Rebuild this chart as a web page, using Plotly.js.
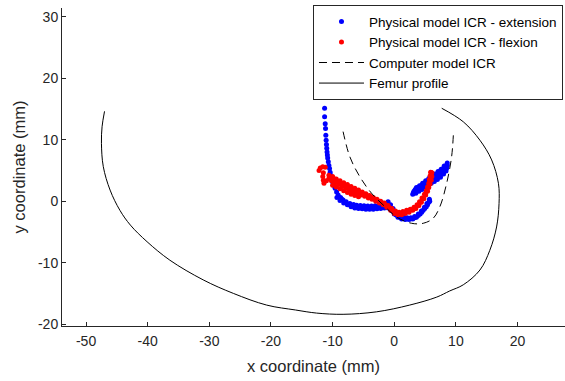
<!DOCTYPE html>
<html>
<head>
<meta charset="utf-8">
<script src="https://cdn.plot.ly/plotly-3.0.1.min.js"></script>
<style>html,body{margin:0;padding:0;background:#fff;}#chart{width:565px;height:381px;}</style>
</head>
<body>
<div id="chart"></div>
<script>
// Physical model ICR - extension (blue)
const extX = [-11.3,-11.3,-11.2,-11.15,-11.1,-11.05,-11.0,-10.95,-10.9,-10.85,-10.8,-10.7,-10.6,-10.5,-10.4,-10.3,-10.15,-10.0,-9.8,-9.6,-9.35,-9.1,-8.7,-8.3,-7.8,-7.2,-6.6,-6.1,-5.5,-4.9,-4.3,-3.7,-3.1,-2.5,-1.9,-1.3,-1.0,-0.6,-0.2,0.3,0.9,1.5,2.1,2.7,3.3,3.9,4.4,4.9,5.3,5.7,
  -9.3,-8.8,-8.2,-7.6,-7.0,-6.4,-5.8,-5.2,-4.6,-4.0,-3.4,-2.8,-2.2,-1.6,-1.0,-0.5,0.0,0.6,1.2,1.8,2.4,3.0,3.6,4.2,4.7,5.2,5.6,
  -8.5,-7.9,-7.3,-6.7,-6.1,-5.5,-4.9,-4.3,-3.7,-3.1,-2.5,-1.9,-1.3,-0.8,-0.3,0.3,0.9,1.5,2.1,2.7,3.3,3.9,4.45,4.95,5.4,5.75,
  3.2,3.7,4.2,4.7,5.2,5.7,6.2,6.7,7.2,7.7,8.2,8.6,
  3.6,4.1,4.6,5.1,5.6,6.1,6.6,7.1,7.6,8.1,8.6,
  3.0,3.5,4.0,4.5,5.0,5.5,6.0,6.5,7.0,7.5,8.0,8.4,
  3.4,3.9,4.4,4.9,5.4,5.9,6.4,6.9,7.4,7.9,8.4,
  3.1,3.6,4.1,4.6,5.1,5.6,6.1,6.6,7.1,7.6,8.1,8.5];
const extY = [15.1,13.7,12.6,11.8,10.7,9.9,9.2,8.6,8.0,7.5,7.0,6.4,5.8,5.3,4.7,4.2,3.6,3.1,2.6,2.1,1.5,1.0,0.6,0.2,-0.1,-0.4,-0.55,-0.65,-0.7,-0.75,-0.8,-0.8,-0.75,-0.7,-0.6,-0.4,-0.1,-0.6,-1.2,-1.9,-2.4,-2.6,-2.7,-2.7,-2.5,-2.1,-1.6,-1.0,-0.4,0.3,
  0.6,0.1,-0.3,-0.6,-0.9,-1.1,-1.2,-1.25,-1.3,-1.3,-1.3,-1.25,-1.2,-1.1,-1.1,-1.5,-2.1,-2.6,-2.9,-3.0,-3.0,-2.9,-2.6,-2.1,-1.5,-0.9,-0.2,
  0.3,-0.25,-0.6,-0.8,-0.9,-0.95,-1.0,-1.05,-1.05,-1.0,-0.95,-0.85,-0.75,-0.9,-1.6,-2.25,-2.6,-2.8,-2.85,-2.85,-2.7,-2.35,-1.8,-1.2,-0.6,0.0,
  1.6,1.9,2.2,2.6,2.95,3.3,3.65,4.0,4.4,4.8,5.3,5.8,
  2.2,2.5,2.9,3.3,3.7,4.0,4.4,4.8,5.2,5.7,6.2,
  1.1,1.3,1.6,1.9,2.3,2.6,2.9,3.2,3.5,3.9,4.4,4.9,
  1.9,2.2,2.55,2.95,3.3,3.65,4.0,4.4,4.8,5.25,5.75,
  1.35,1.6,1.9,2.25,2.6,2.95,3.3,3.6,3.95,4.35,4.85,5.35];

// Physical model ICR - flexion (red)
const flxX = [-12.2,-12.0,-11.6,-11.2,-11.5,-11.6,-11.5,-11.4,-11.0,-10.6,-10.2,
  -10.6,-10.0,-9.4,-8.8,-8.2,-7.6,-7.0,-6.4,-5.8,-5.2,-4.6,-4.0,-3.4,-2.8,-2.2,-1.6,-1.0,-0.4,0.2,0.8,1.4,2.0,2.6,3.2,3.7,4.1,4.5,4.9,5.2,5.4,5.6,5.7,5.8,5.9,
  -10.2,-9.6,-9.0,-8.4,-7.8,-7.2,-6.6,-6.0,-5.4,-4.8,-4.2,-3.6,-3.0,-2.4,-1.8,-1.2,-0.6,0.0,0.6,1.2,1.8,2.4,3.0,3.5,4.0,4.4,4.8,5.1,5.4,5.6,5.8,6.0,6.1,6.1,
  -10.0,-9.4,-8.8,-8.2,-7.6,-7.0,-6.4,-5.8,
  -9.7,-9.1,-8.5,-7.9,-7.3,-6.7,-6.1,-5.5,-4.9,-4.3,-3.7,-3.1,-2.5,-1.9,-1.3,-0.7,-0.1,0.5,1.1,1.7,2.3,2.9,3.45,3.9,4.3,4.7,5.05,5.3,5.5,5.7,5.85,5.95,6.0];
const flxY = [5.0,5.4,5.6,5.5,4.6,4.0,3.4,2.9,3.3,3.7,3.8,
  4.2,4.0,3.6,3.3,3.0,2.7,2.4,2.1,1.8,1.5,1.2,0.9,0.6,0.3,0.0,-0.3,-0.7,-1.2,-1.6,-1.8,-1.7,-1.5,-1.3,-1.0,-0.6,-0.1,0.5,1.1,1.7,2.3,2.9,3.5,4.1,4.7,
  3.3,3.0,2.7,2.4,2.1,1.8,1.5,1.2,1.0,0.8,0.5,0.3,0.0,-0.3,-0.6,-1.0,-1.5,-2.0,-2.2,-2.2,-2.0,-1.8,-1.5,-1.2,-0.7,-0.2,0.4,1.0,1.6,2.2,2.8,3.4,4.0,4.6,
  2.6,2.3,2.0,1.7,1.4,1.1,0.9,0.7,
  3.6,3.2,2.85,2.55,2.25,1.95,1.65,1.4,1.15,0.85,0.6,0.3,0.0,-0.3,-0.65,-1.1,-1.6,-1.95,-2.0,-1.85,-1.65,-1.4,-1.1,-0.65,-0.15,0.45,1.05,1.65,2.25,2.85,3.45,4.05,4.65];

// Computer model ICR (dashed)
const cmpX = [-8.3,-7.2,-5.6,-3.7,-1.5,0.4,2.8,4.7,6.3,7.4,8.5,9.3,9.6];
const cmpY = [11.3,7.2,4.0,1.3,-0.9,-2.6,-3.6,-3.6,-2.8,-0.9,2.9,7.2,11.0];

// Femur profile (solid)
const femX = [-47.0,-47.4,-47.5,-47.2,-46.1,-44.5,-42.8,-40.1,-36.4,-31.0,-26.1,-20.7,-16.0,-12.6,-8.3,-2.9,2.5,6.9,9.0,11.2,13.9,15.5,16.6,17.0,16.9,15.8,13.9,11.2,7.7];
const femY = [14.6,12.1,9.4,5.6,1.8,-1.5,-3.9,-6.6,-9.6,-12.8,-15.0,-16.9,-17.7,-18.2,-18.4,-18.0,-16.9,-15.6,-14.6,-13.6,-11.2,-8.0,-4.2,-0.4,2.9,6.7,9.9,12.9,15.1];

const xTicks = [-50,-40,-30,-20,-10,0,10,20];
const yTicks = [-20,-10,0,10,20,30];

const names = ['Physical model ICR - extension','Physical model ICR - flexion','Computer model ICR','Femur profile'];

const FONT = 'Liberation Sans, Arial, Helvetica, sans-serif';

const traces = [
  {x: extX, y: extY, type: 'scatter', mode: 'markers', name: names[0],
   marker: {color: '#0000ff', size: 5, line: {width: 0}}},
  {x: flxX, y: flxY, type: 'scatter', mode: 'markers', name: names[1],
   marker: {color: '#ff0000', size: 5, line: {width: 0}}},
  {x: cmpX, y: cmpY, type: 'scatter', mode: 'lines', name: names[2],
   line: {color: '#000000', width: 1, dash: '8px,5px', shape: 'spline'}},
  {x: femX, y: femY, type: 'scatter', mode: 'lines', name: names[3],
   line: {color: '#000000', width: 1, shape: 'spline'}}
];

const axisCommon = {
  showline: true, linecolor: '#262626', linewidth: 1,
  ticks: 'inside', ticklen: 4, tickcolor: '#262626', tickwidth: 1,
  showgrid: false, zeroline: false, mirror: false,
  tickfont: {family: FONT, size: 14, color: '#262626'}
};

const layout = {
  width: 565, height: 381,
  margin: {l: 62, r: 0, t: 8, b: 55},
  paper_bgcolor: '#ffffff', plot_bgcolor: '#ffffff',
  showlegend: true,
  xaxis: Object.assign({}, axisCommon, {
    range: [-53.9, 27.7], tickvals: xTicks, ticktext: xTicks.map(String),
    ticklabelstandoff: 2,
    title: {text: 'x coordinate (mm)', font: {family: FONT, size: 16.5, color: '#262626'}, standoff: 12}
  }),
  yaxis: Object.assign({}, axisCommon, {
    range: [-20.3, 31.4], tickvals: yTicks, ticktext: yTicks.map(String),
    title: {text: 'y coordinate (mm)', font: {family: FONT, size: 16.5, color: '#262626'}, standoff: 8}
  }),
  legend: {
    x: 0.499, y: 1.009, xanchor: 'left', yanchor: 'top',
    bgcolor: '#ffffff', bordercolor: '#262626', borderwidth: 1,
    font: {family: FONT, size: 13.5, color: '#000000'},
    itemwidth: 45, tracegroupgap: 0
  }
};

Plotly.newPlot('chart', traces, layout, {staticPlot: true, displayModeBar: false});
</script>
</body>
</html>
